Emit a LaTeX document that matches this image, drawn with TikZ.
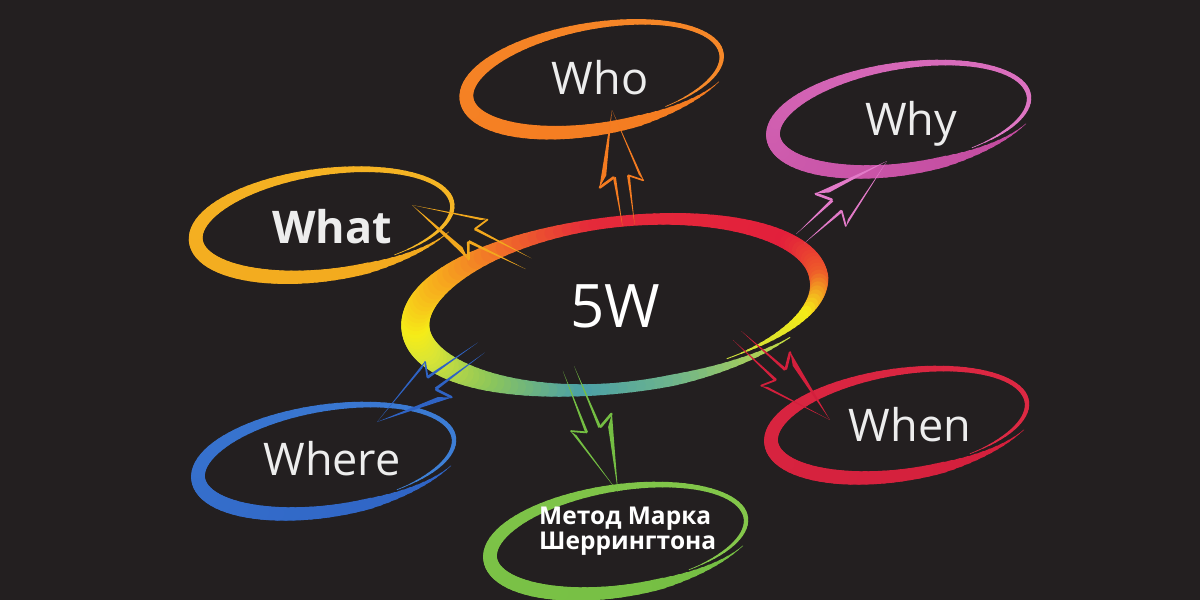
\documentclass[tikz,border=0pt]{standalone}
\usepackage{fontspec}
\setmainfont{Open Sans}
\usetikzlibrary{calc}
\definecolor{bg}{HTML}{231F20}
\definecolor{txt}{HTML}{EDEDED}
\definecolor{cWho}{HTML}{F47B20}
\definecolor{cWhoB}{HTML}{F68A2A}
\definecolor{cWhy}{HTML}{C24A9E}
\definecolor{cWhyB}{HTML}{E27AC8}
\definecolor{cWhat}{HTML}{F2A81D}
\definecolor{cWhatB}{HTML}{F6B826}
\definecolor{cWhere}{HTML}{2F63C4}
\definecolor{cWhereB}{HTML}{3F82D8}
\definecolor{cMeth}{HTML}{74BE43}
\definecolor{cMethB}{HTML}{86C84C}
\definecolor{cWhen}{HTML}{D31F3C}
\definecolor{cWhenB}{HTML}{DE2A44}
% ring stops
\definecolor{rYG}{HTML}{C9DD3C}
\definecolor{rTG}{HTML}{6DB48C}
\definecolor{rTeal}{HTML}{4BA0A8}
\definecolor{rGreen}{HTML}{8DC65A}
\definecolor{rLG}{HTML}{D9E536}
\definecolor{rYel}{HTML}{F6EC17}
\definecolor{rOra}{HTML}{F7A91D}
\definecolor{rOR}{HTML}{F06A2A}
\definecolor{rRed}{HTML}{E52A3A}
\definecolor{rRed2}{HTML}{E21F3B}
\definecolor{rOR2}{HTML}{EE5A2A}

\newcommand\brushseg[5]{% t1 t2 n colA colB
  \pgfmathsetmacro\dstep{(#2-#1)/#3}%
  \foreach \i in {1,...,#3}{%
    \pgfmathsetmacro\ta{#1+\dstep*(\i-1)}%
    \pgfmathsetmacro\tb{#1+\dstep*\i}%
    \pgfmathsetmacro\tm{(\ta+\tb)/2}%
    \pgfmathtruncatemacro\pc{100-100*(\i-0.5)/#3}%
    \pgfmathsetmacro\w{bwid(\tm)}%
    \pgfmathsetmacro\ra{brad(\ta)}%
    \pgfmathsetmacro\rb{brad(\tb)}%
    \pgfmathsetmacro\xa{\AX*\ra*cos(\ta)}%
    \pgfmathsetmacro\ya{\BY*\ra*sin(\ta)}%
    \pgfmathsetmacro\xb{\AX*\rb*cos(\tb)}%
    \pgfmathsetmacro\yb{\BY*\rb*sin(\tb)}%
    \draw[line width=\w pt,#4!\pc!#5,line cap=round] (\xa,\ya) -- (\xb,\yb);
  }}

\newcommand\smallell[6]{% name cx cy rot colA colB
  \coordinate (#1) at (#2,#3);
  \begin{scope}[shift={(#1)},rotate=#4,
    declare function={btap(\t)=max(0.07,min(1,((\t-30)/390)/0.12,(1-(\t-30)/390)/0.18));
      bwid(\t)=(4.5+10*(0.5+0.5*cos(\t-150)))*btap(\t);
      brad(\t)=1.05-0.1*(\t-30)/390;}]
    \def\AX{131}\def\BY{51}
    \brushseg{30}{420}{104}{#5}{#6}
  \end{scope}}

\newcommand\harrow[6]{% name bx by tx ty color
  \coordinate (#1b) at (#2,#3);
  \coordinate (#1t) at (#4,#5);
  \pgfmathsetmacro\ang{atan2(-(#5-#3),#4-#2)}%
  \pgfmathsetmacro\L{veclen(#4-#2,#5-#3)}%
  \pgfmathsetmacro\Hb{\L-72}%
  \begin{scope}[shift={(#1b)},rotate=\ang,x=1pt,y=1pt,fill=#6,draw=#6]
    \fill (\L,0) -- ({\Hb-3},23.5) -- ({\Hb+8},15) -- cycle;
    \fill (\L,0) -- ({\Hb-2},-21.5) -- ({\Hb+4},-17.5) -- cycle;
    \draw[line width=2.6pt,line cap=round] ({\Hb-3},23) -- ({\Hb+5},8);
    \draw[line width=1.8pt,line cap=round] ({\Hb-2},-21) -- ({\Hb+5},-7);
    \fill ({\Hb+5},8.6) -- ({\Hb+5},5.6) -- (-4,6.0) -- cycle;
    \fill ({\Hb+5},-5.6) -- ({\Hb+5},-8.4) -- (-4,-6.2) -- cycle;
  \end{scope}}

\tikzset{lbl/.style={text=txt,inner sep=0pt,font=\fontsize{45}{50}\selectfont}}

\begin{document}
\begin{tikzpicture}[x=1pt,y=-1pt]
\fill[bg] (0,0) rectangle (1200,600);
\useasboundingbox (0,0) rectangle (1200,600);
\clip (0,0) rectangle (1200,600);

% central ring
\coordinate (center) at (621,303);
\begin{scope}[shift={(center)},rotate=7,
  declare function={ctap(\t)=max(0.07,min(1,((\t-40)/380)/0.10,(1-(\t-40)/380)/0.16));
    bwid(\t)=(11+17*(max(0,cos(\t-180)))^2+8*(max(0,cos(\t)))^2)*ctap(\t);
    brad(\t)=1.04-0.08*(\t-40)/380;}]
  \def\AX{205}\def\BY{82}
  \brushseg{40}{80}{16}{rYG}{rTG}
  \brushseg{80}{105}{10}{rTG}{rTeal}
  \brushseg{105}{135}{12}{rTeal}{rGreen}
  \brushseg{135}{165}{12}{rGreen}{rLG}
  \brushseg{165}{185}{8}{rLG}{rYel}
  \brushseg{185}{215}{12}{rYel}{rOra}
  \brushseg{215}{240}{10}{rOra}{rOR}
  \brushseg{240}{265}{10}{rOR}{rRed}
  \brushseg{265}{330}{26}{rRed}{rRed2}
  \brushseg{330}{360}{12}{rRed2}{rOR2}
  \brushseg{360}{385}{10}{rOR2}{rYel}
  \brushseg{385}{420}{14}{rYel}{rYG}
\end{scope}

% surrounding ellipses
\smallell{eWho}{597}{76}{10}{cWho}{cWhoB}
\smallell{eWhy}{904}{116}{9}{cWhy}{cWhyB}
\smallell{eWhat}{327}{222}{8}{cWhat}{cWhatB}
\smallell{eWhere}{329}{458}{9}{cWhere}{cWhereB}
\smallell{eMeth}{621}{538}{9}{cMeth}{cMethB}
\smallell{eWhen}{902}{422}{9}{cWhen}{cWhenB}

% arrows
\harrow{aWho}{628}{222}{612}{110}{cWho}
\harrow{aWhy}{803}{236}{887}{161}{cWhyB}
\harrow{aWhat}{525}{262}{412}{205}{cWhat}
\harrow{aWhere}{478}{350}{377}{422}{cWhere}
\harrow{aMeth}{570}{372}{618}{492}{cMeth}
\harrow{aWhen}{740}{338}{830}{420}{cWhen}

% texts
\node[lbl,anchor=base,text=white,font=\fontsize{60}{66}\selectfont] (t5W) at (615,327) {5W};
\node[lbl,anchor=base] (tWho) at (600,94) {Who};
\node[lbl,anchor=base] (tWhy) at (911,135) {Why};
\node[lbl,anchor=base,font=\bfseries\fontsize{45}{50}\selectfont] (tWhat) at (332,243) {What};
\node[lbl,anchor=base] (tWhere) at (332,475) {Where};
\node[lbl,anchor=base] (tWhen) at (910,441) {When};
\node[text=white,inner sep=0pt,anchor=north west,align=left,
      font=\bfseries\fontsize{24.5}{25.5}\selectfont] (tMeth) at (539,506.5)
      {Метод Марка\\Шеррингтона};
\end{tikzpicture}
\end{document}
